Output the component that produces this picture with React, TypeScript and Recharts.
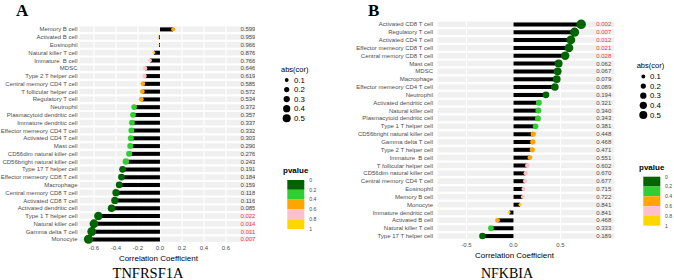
import { ComposedChart, Bar, Scatter, XAxis, YAxis, CartesianGrid } from "recharts";

// panel A: TNFRSF1A
const CELLS_A = [
  "Memory B cell", "Activated B cell", "Eosinophil", "Natural killer T cell", "Immature  B cell",
  "MDSC", "Type 2 T helper cell", "Central memory CD4 T cell", "T follicular helper cell",
  "Regulatory T cell", "Neutrophil", "Plasmacytoid dendritic cell", "Immature dendritic cell",
  "Effector memeory CD4 T cell", "Activated CD4 T cell", "Mast cell", "CD56dim natural killer cell",
  "CD56bright natural killer cell", "Type 17 T helper cell", "Effector memeory CD8 T cell",
  "Macrophage", "Central memory CD8 T cell", "Activated CD8 T cell", "Activated dendritic cell",
  "Type 1 T helper cell", "Natural killer cell", "Gamma delta T cell", "Monocyte",
];
const COR_A = [
  0.12, -0.01, -0.008, -0.055, -0.09, -0.135, -0.14, -0.155, -0.16, -0.17, -0.235, -0.245,
  -0.255, -0.26, -0.265, -0.27, -0.28, -0.31, -0.34, -0.35, -0.37, -0.4, -0.41, -0.44,
  -0.56, -0.6, -0.62, -0.65,
];
const P_A = [
  0.599, 0.959, 0.966, 0.876, 0.766, 0.646, 0.619, 0.585, 0.572, 0.534, 0.372, 0.357, 0.337,
  0.332, 0.303, 0.29, 0.276, 0.243, 0.191, 0.184, 0.159, 0.118, 0.116, 0.085, 0.022, 0.014,
  0.011, 0.007,
];

// panel B: NFKBIA
const CELLS_B = [
  "Activated CD8 T cell", "Regulatory T cell", "Activated CD4 T cell", "Effector memeory CD8 T cell",
  "Central memory CD8 T cell", "Mast cell", "MDSC", "Macrophage", "Effector memeory CD4 T cell",
  "Neutrophil", "Activated dendritic cell", "Natural killer cell", "Plasmacytoid dendritic cell",
  "Type 1 T helper cell", "CD56bright natural killer cell", "Gamma delta T cell",
  "Type 2 T helper cell", "Immature  B cell", "T follicular helper cell",
  "CD56dim natural killer cell", "Central memory CD4 T cell", "Eosinophil", "Memory B cell",
  "Monocyte", "Immature dendritic cell", "Activated B cell", "Natural killer T cell",
  "Type 17 T helper cell",
];
const COR_B = [
  0.72, 0.65, 0.61, 0.59, 0.55, 0.48, 0.47, 0.46, 0.44, 0.345, 0.27, 0.265, 0.26, 0.235,
  0.21, 0.205, 0.2, 0.175, 0.147, 0.13, 0.122, 0.105, 0.098, 0.07, -0.045, -0.17, -0.24, -0.33,
];
const P_B = [
  0.002, 0.007, 0.012, 0.021, 0.028, 0.062, 0.067, 0.079, 0.089, 0.194, 0.321, 0.34, 0.343,
  0.381, 0.448, 0.468, 0.471, 0.551, 0.602, 0.67, 0.677, 0.715, 0.722, 0.841, 0.841, 0.468,
  0.333, 0.189,
];

const TICKS_A = [-0.6, -0.4, -0.2, 0, 0.2, 0.4, 0.6];
const TICKS_B = [-0.5, 0, 0.5];
const P_BREAKS = [0, 0.2, 0.4, 0.6, 0.8, 1];
const P_COLORS = ["#006400", "#32CD32", "#FFA500", "#FFC0CB", "#FFD700"];
const SIZE_BREAKS = [0.1, 0.2, 0.3, 0.4, 0.5];

const SANS = "'Liberation Sans', Arial, sans-serif";
const SERIF = "'Liberation Serif', 'Times New Roman', serif";

const pColor = (p: number) => P_COLORS[Math.min(4, Math.floor(p / 0.2))];
const radius = (v: number) => 0.2 + 5.4 * Math.sqrt(Math.abs(v));

const Dot = (props: any) => {
  const { cx, cy, payload } = props;
  return <circle cx={cx} cy={cy} r={radius(payload.cor)} fill={pColor(payload.p)} />;
};

const PLabel = (props: any) => {
  const { cx, cy, payload } = props;
  return (
    <text x={cx} y={cy} dy="0.35em" textAnchor="middle" fontSize={6} fontFamily={SANS}
      fill={payload.p < 0.05 ? "#f03c3c" : "#4d4d4d"}>
      {payload.p.toFixed(3)}
    </text>
  );
};

// single-line tick labels (default Text would wrap them)
const CellTick = (props: any) => {
  const { x, y, payload } = props;
  return (
    <text x={x} y={y} dy="0.35em" textAnchor="end" fontSize={6} fontFamily={SANS} fill="#4d4d4d"
      style={{ whiteSpace: "pre" }}>
      {payload.value}
    </text>
  );
};

type PanelProps = {
  cells: string[]; cor: number[]; p: number[]; ticks: number[]; domain: [number, number];
  left: number; width: number; top: number; bottom: number; yWidth: number; gap: number;
  labelX: number;
};

function Panel(props: PanelProps) {
  const { cells, cor, p, ticks, domain, left, width, top, bottom, yWidth, gap, labelX } = props;
  const data = cells.map((name, i) => ({ name, cor: cor[i], p: p[i] }));
  const n = data.length;
  return (
    <div style={{ position: "absolute", left, top: 0 }}>
      <ComposedChart width={width} height={280} data={data} layout="vertical"
        margin={{ top, bottom: 280 - bottom - 10, left: 0, right: 5 }}>
        <CartesianGrid vertical={false} stroke="#f0f0f0" strokeWidth={5.6}
          horizontalCoordinatesGenerator={({ offset }: any) =>
            data.map((_, i) => offset.top + ((i + 0.5) * offset.height) / n)} />
        <CartesianGrid horizontal={false} stroke="#ffffff" strokeWidth={1.2} />
        <XAxis type="number" domain={domain} ticks={ticks} allowDataOverflow interval={0}
          tickFormatter={(v: number) => v.toFixed(1)} axisLine={false} tickLine={false}
          tickSize={0} tickMargin={3} height={10}
          tick={{ fontSize: 6, fill: "#4d4d4d", fontFamily: SANS }} />
        <YAxis type="category" dataKey="name" width={yWidth} axisLine={false} tickLine={false}
          tickSize={0} tickMargin={gap} interval={0} tick={CellTick} />
        <Bar dataKey="cor" fill="#000" barSize={4} isAnimationActive={false} />
        <Scatter dataKey="cor" shape={Dot} isAnimationActive={false} />
        <Scatter dataKey={() => labelX} shape={PLabel} isAnimationActive={false} />
      </ComposedChart>
    </div>
  );
}

function Legends({ ax, ay, dx, lx, y0, step, px, py, bx, by, blx }: any) {
  return (
    <g fontFamily={SANS}>
      <text x={ax} y={ay} dy="0.35em" fontSize={7.5} fill="#000">abs(cor)</text>
      {SIZE_BREAKS.map((s, i) => (
        <g key={s}>
          <circle cx={dx} cy={y0 + i * step} r={radius(s)} fill="#000" />
          <text x={lx} y={y0 + i * step} dy="0.35em" fontSize={7.8} fill="#000">{s}</text>
        </g>
      ))}
      <text x={px} y={py} dy="0.35em" fontSize={8} fontWeight="bold" fill="#000">pvalue</text>
      {P_COLORS.map((c, i) => (
        <rect key={c} x={bx} y={by + i * 9.8} width={17} height={9.8} fill={c} />
      ))}
      {P_BREAKS.map((b, i) => (
        <text key={b} x={blx} y={by + i * 9.8} dy="0.35em" fontSize={5.2} fill="#4d4d4d">{b}</text>
      ))}
    </g>
  );
}

export default function App() {
  return (
    <div style={{ position: "absolute", left: 0, top: 0, width: 674, height: 280, background: "#fff", overflow: "hidden" }}>
      <Panel cells={CELLS_A} cor={COR_A} p={P_A} ticks={TICKS_A} domain={[-0.736, 0.864]}
        left={0} width={260} top={25.4} bottom={243.2} yWidth={79} gap={1.5} labelX={0.8} />
      <Panel cells={CELLS_B} cor={COR_B} p={P_B} ticks={TICKS_B} domain={[-0.814, 1.08]}
        left={340} width={280} top={20.4} bottom={239.9} yWidth={97} gap={4} labelX={0.96} />
      <svg width={674} height={280} style={{ position: "absolute", left: 0, top: 0, pointerEvents: "none" }}>
        <text x={16} y={15.5} fontSize={17} fontWeight="bold" fontFamily={SERIF}>A</text>
        <text x={368} y={15.5} fontSize={17} fontWeight="bold" fontFamily={SERIF}>B</text>
        <text x={158.4} y={261} fontSize={8} textAnchor="middle" fontFamily={SANS}>Correlation Coefficient</text>
        <text x={514.5} y={258} fontSize={8} textAnchor="middle" fontFamily={SANS}>Correlation Coefficient</text>
        <text x={148} y={278} fontSize={14.5} textAnchor="middle" fontFamily={SERIF}>TNFRSF1A</text>
        <text x={507} y={278} fontSize={14} textAnchor="middle" fontFamily={SERIF}>NFKBIA</text>
        <Legends ax={281} ay={69.3} dx={286.7} lx={294} y0={80} step={9.55}
          px={283} py={170} bx={287.3} by={180} blx={309.3} />
        <Legends ax={636.7} ay={65} dx={643.3} lx={650} y0={76.5} step={9.6}
          px={639} py={166.7} bx={643.3} by={176.7} blx={665} />
      </svg>
    </div>
  );
}
